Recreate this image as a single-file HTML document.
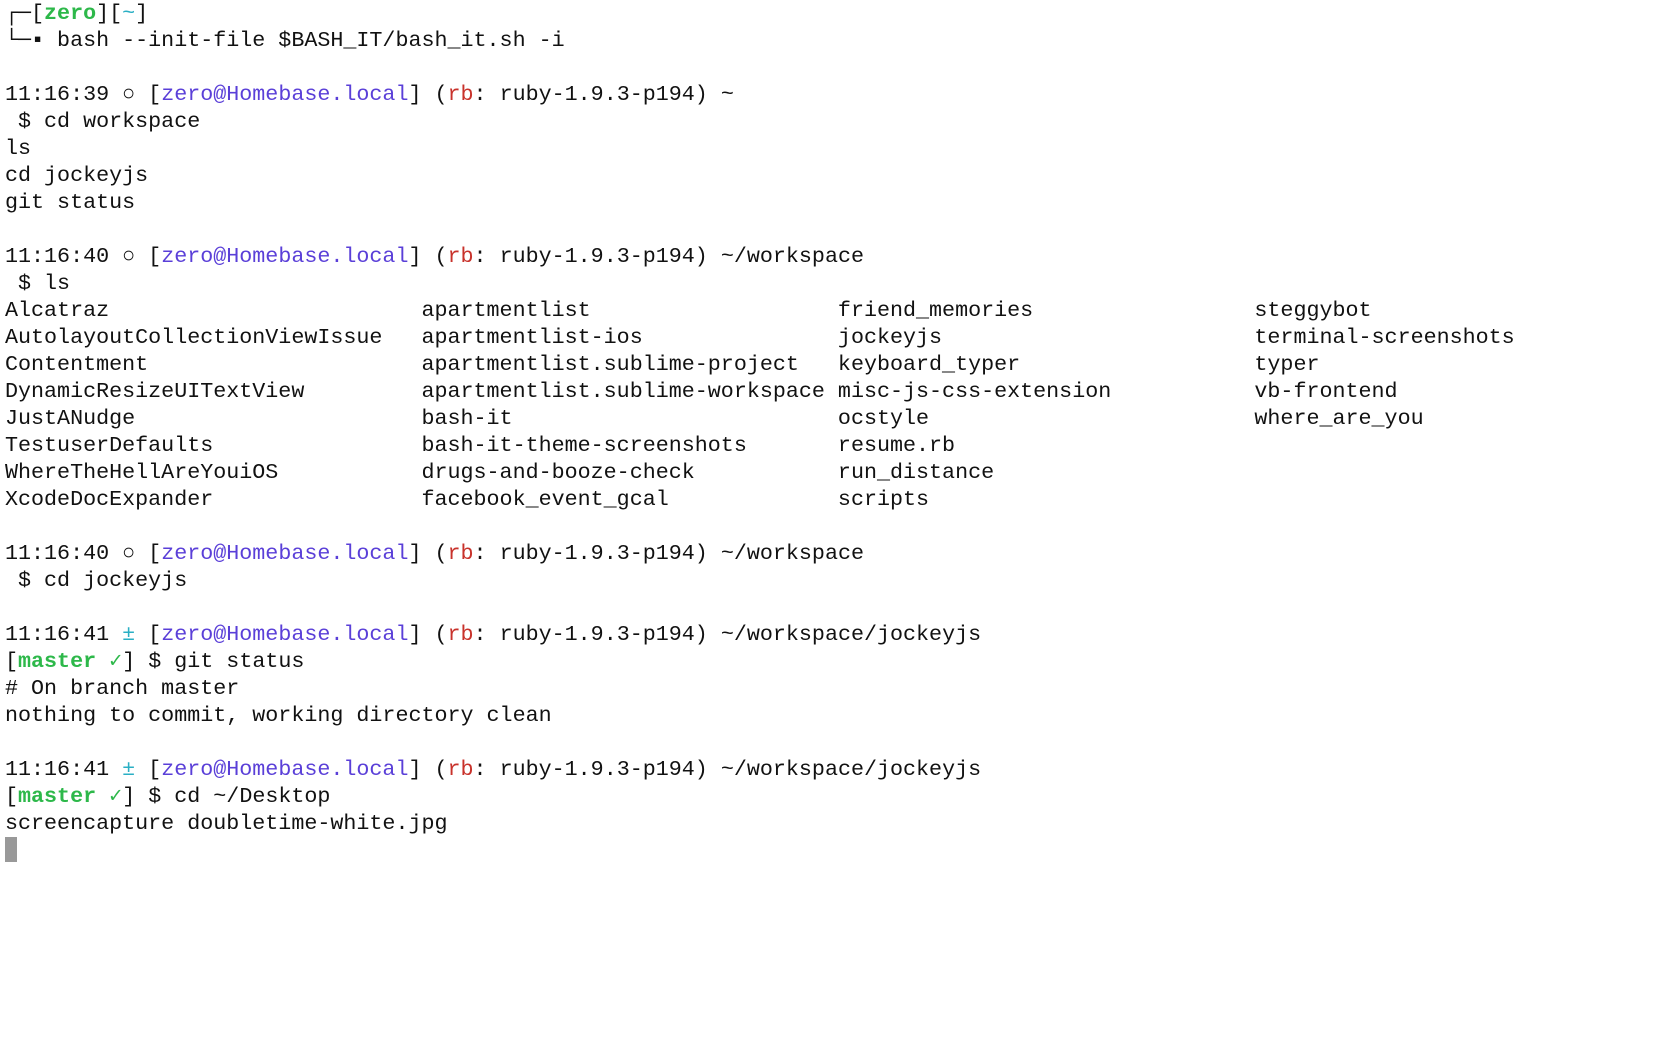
<!DOCTYPE html>
<html><head><meta charset="utf-8"><style>
html,body{margin:0;padding:0;background:#fff;width:1680px;height:1050px;overflow:hidden}
pre{margin:0;padding:0 0 0 5px;font-family:"Liberation Mono","DejaVu Sans Mono",monospace;font-size:21.7px;line-height:27px;color:#111;white-space:pre}
.g{color:#2db84a;font-weight:bold}.c{color:#2aafc4}.p{color:#5a3fd8}.r{color:#c8322b}.gc{color:#2db84a}
.cur{display:inline-block;width:12px;height:25px;background:#999;vertical-align:-5px}
</style></head><body><pre>┌─[<span class="g">zero</span>][<span class="c">~</span>]
└─▪ bash --init-file $BASH_IT/bash_it.sh -i

11:16:39 ○ [<span class="p">zero@Homebase.local</span>] (<span class="r">rb</span>: ruby-1.9.3-p194) ~
 $ cd workspace
ls
cd jockeyjs
git status

11:16:40 ○ [<span class="p">zero@Homebase.local</span>] (<span class="r">rb</span>: ruby-1.9.3-p194) ~/workspace
 $ ls
Alcatraz                        apartmentlist                   friend_memories                 steggybot
AutolayoutCollectionViewIssue   apartmentlist-ios               jockeyjs                        terminal-screenshots
Contentment                     apartmentlist.sublime-project   keyboard_typer                  typer
DynamicResizeUITextView         apartmentlist.sublime-workspace misc-js-css-extension           vb-frontend
JustANudge                      bash-it                         ocstyle                         where_are_you
TestuserDefaults                bash-it-theme-screenshots       resume.rb
WhereTheHellAreYouiOS           drugs-and-booze-check           run_distance
XcodeDocExpander                facebook_event_gcal             scripts

11:16:40 ○ [<span class="p">zero@Homebase.local</span>] (<span class="r">rb</span>: ruby-1.9.3-p194) ~/workspace
 $ cd jockeyjs

11:16:41 <span class="c">±</span> [<span class="p">zero@Homebase.local</span>] (<span class="r">rb</span>: ruby-1.9.3-p194) ~/workspace/jockeyjs
[<span class="g">master</span> <span class="gc">✓</span>] $ git status
# On branch master
nothing to commit, working directory clean

11:16:41 <span class="c">±</span> [<span class="p">zero@Homebase.local</span>] (<span class="r">rb</span>: ruby-1.9.3-p194) ~/workspace/jockeyjs
[<span class="g">master</span> <span class="gc">✓</span>] $ cd ~/Desktop
screencapture doubletime-white.jpg
<span class="cur"></span></pre></body></html>
